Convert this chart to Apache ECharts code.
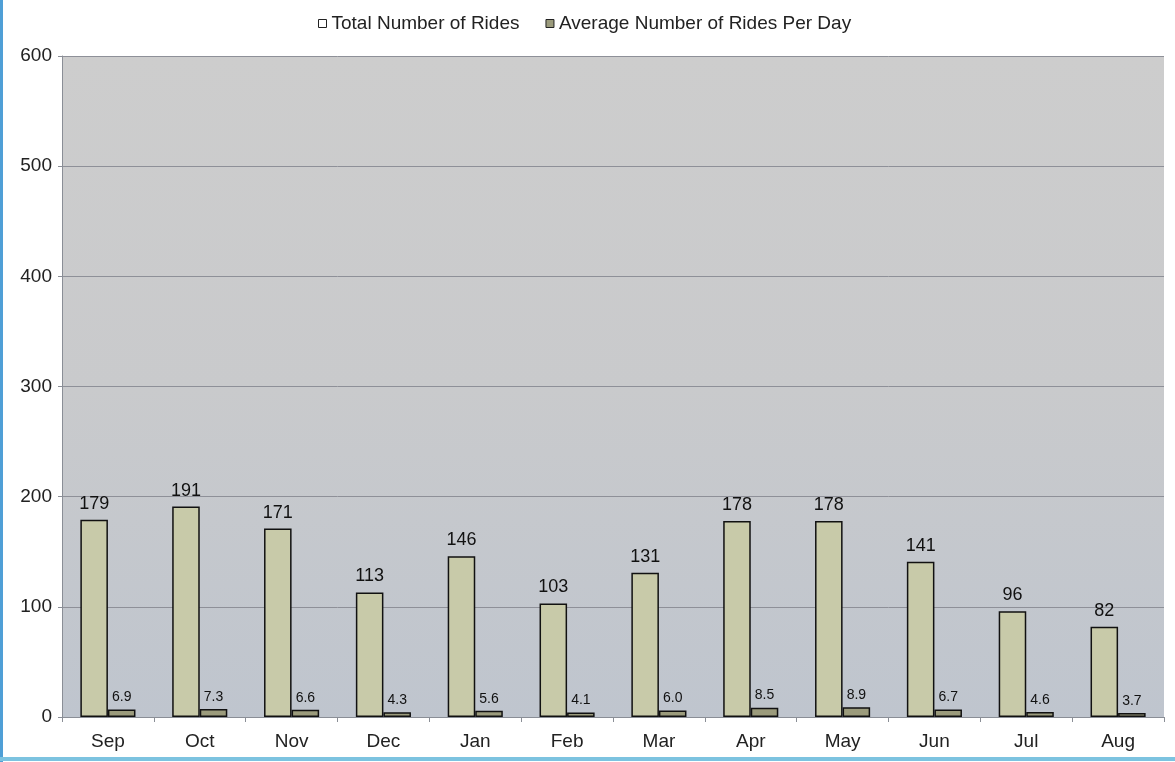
<!DOCTYPE html>
<html>
<head>
<meta charset="utf-8">
<script src="https://cdn.jsdelivr.net/npm/echarts@6/dist/echarts.min.js"></script>
<style>
html,body{margin:0;padding:0;background:#fff;}
#wrap{position:relative;width:1175px;height:762px;}
#chart{width:1175px;height:762px;}
#bl{position:absolute;left:0;top:0;width:3px;height:762px;background:#4f9fd6;}
#bb{position:absolute;left:0;top:757px;width:1175px;height:4px;background:#7cc3e0;}
</style>
</head>
<body>
<div id="wrap"><div id="chart"></div><div id="bl"></div><div id="bb"></div></div>
<script>
const months = ['Sep','Oct','Nov','Dec','Jan','Feb','Mar','Apr','May','Jun','Jul','Aug'];
const totalRides = [179,191,171,113,146,103,131,178,178,141,96,82];
const avgRides = [6.9,7.3,6.6,4.3,5.6,4.1,6.0,8.5,8.9,6.7,4.6,3.7];
const yTicks = [0,100,200,300,400,500,600];

const chart = echarts.init(document.getElementById('chart'));
const font = '"Liberation Sans", Arial, sans-serif';
chart.setOption({
  animation:false,
  textStyle:{fontFamily:font},
  legend:{
    top:9, left:313, itemWidth:8, itemHeight:8, itemGap:26,
    textStyle:{fontSize:19, color:'#222', fontFamily:font},
    data:[
      {name:'Total Number of Rides', icon:'rect', itemStyle:{color:'#ffffff', borderColor:'#222', borderWidth:1}},
      {name:'Average Number of Rides Per Day', icon:'rect', itemStyle:{color:'#9b9b7c', borderColor:'#222', borderWidth:1}}
    ]
  },
  grid:{
    left:62, right:11, top:56, bottom:45, containLabel:false, show:true, borderWidth:0,
    backgroundColor:new echarts.graphic.LinearGradient(0,0,0,1,[
      {offset:0,color:'#cdcdcd'},{offset:0.5,color:'#c9cacc'},{offset:1,color:'#bfc5ce'}
    ])
  },
  xAxis:{
    type:'category', data:months,
    axisLine:{lineStyle:{color:'#8a8e96', width:1}},
    axisTick:{show:true, length:5, lineStyle:{color:'#8a8e96'}},
    axisLabel:{fontSize:19, color:'#222', margin:15, fontFamily:font}
  },
  yAxis:{
    type:'value', min:yTicks[0], max:yTicks[yTicks.length-1], interval:100,
    axisLine:{show:true, lineStyle:{color:'#8a8e96'}},
    axisTick:{show:true, length:4, lineStyle:{color:'#8a8e96'}},
    axisLabel:{fontSize:19, color:'#222', margin:10, fontFamily:font},
    splitLine:{lineStyle:{color:'#8e9098', width:1}}
  },
  series:[
    {
      name:'Total Number of Rides', type:'bar', data:totalRides,
      barGap:'0%', barCategoryGap:'40%',
      itemStyle:{color:'#c8caa9', borderColor:'#111', borderWidth:1.5},
      label:{show:true, position:'top', distance:7, fontSize:18, color:'#111', fontFamily:font}
    },
    {
      name:'Average Number of Rides Per Day', type:'bar', data:avgRides,
      itemStyle:{color:'#9b9b7c', borderColor:'#111', borderWidth:1.5},
      label:{show:true, position:'top', distance:5, fontSize:14, color:'#111', fontFamily:font,
        formatter:p=>p.value.toFixed(1)}
    }
  ]
});
</script>
</body>
</html>
